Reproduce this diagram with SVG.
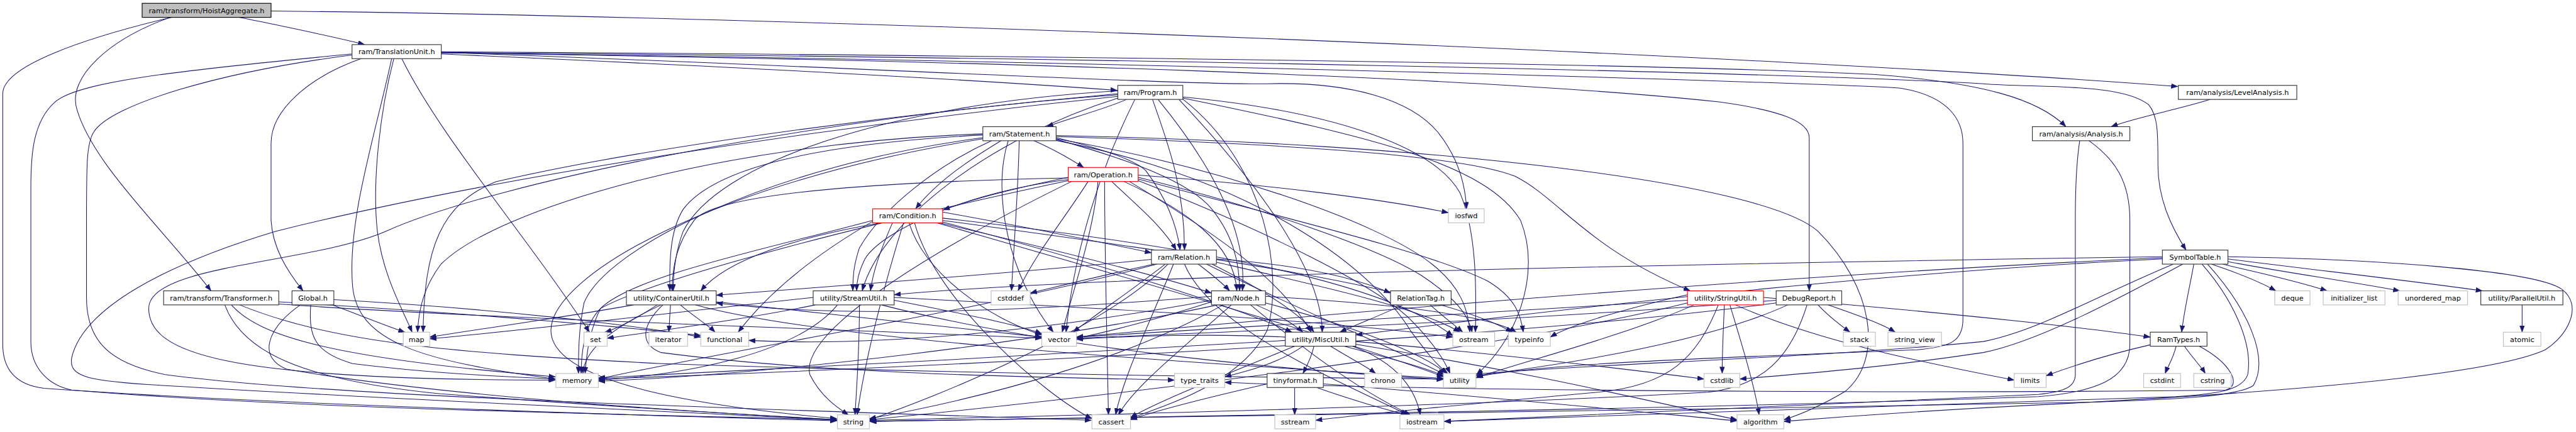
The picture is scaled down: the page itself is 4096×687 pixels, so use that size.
<svg xmlns="http://www.w3.org/2000/svg" width="4096" height="687" viewBox="0 0 4096 687">
<style>
.e path{fill:none;stroke:#191970;stroke-width:1.2;marker-end:url(#ah)}
.nd rect{fill:#fff;stroke:#333;stroke-width:1.3}
.sy rect{fill:#fff;stroke:#bfbfbf;stroke-width:1.3}
.rd rect{fill:#fff;stroke:#ff0000;stroke-width:1.3}
.rt rect{fill:#bfbfbf;stroke:#000;stroke-width:1.3}
text{font-family:"DejaVu Sans","Liberation Sans",sans-serif;font-size:12.9px;text-anchor:middle;fill:#000}
</style>
<defs>
<marker id="ah" viewBox="0 0 12 9" refX="12" refY="4.5" markerWidth="12" markerHeight="9" markerUnits="userSpaceOnUse" orient="auto"><path d="M0,0 L12,4.5 L0,9 z" fill="#191970" stroke="#191970" stroke-width="0.5"/></marker>
</defs>
<rect x="0" y="0" width="4096" height="687" fill="#fff"/>
<g transform="scale(0.876)">
<g id="edges" class="e">
<path d="M433,31 C500,45 600,65 662,81"/>
<path d="M492,20 C1500,30 3200,100 3953,157"/>
<path d="M310,31 C200,70 120,140 140,200 C170,300 300,420 383,528"/>
<path d="M313,31 C150,70 5,120 5,170 L5,625 C5,680 40,700 80,705 C500,735 1200,755 1519,764"/>
<path d="M657,106 C560,140 492,200 492,260 L492,400 C495,450 520,490 550,528"/>
<path d="M715,106 C690,200 675,330 685,420 C695,500 730,560 748,603"/>
<path d="M711,106 C680,250 630,400 640,520 C650,620 760,655 1008,688"/>
<path d="M729,106 C800,250 950,420 1070,603"/>
<path d="M801,98 C1300,120 1700,140 2028,164"/>
<path d="M801,95 C1500,120 2150,155 2300,152 C2450,148 2560,180 2610,240 C2650,290 2660,340 2662,379"/>
<path d="M801,96 C1800,110 2700,140 3120,185 C3230,200 3284,220 3284,250 L3284,528"/>
<path d="M801,94 C1800,100 3000,115 3400,135 C3600,150 3700,180 3750,230"/>
<path d="M801,95 C2000,105 3200,130 3600,152 C3700,160 3850,150 3900,190 C3917,210 3917,240 3917,300 C3917,360 3940,410 3968,454"/>
<path d="M801,96 C2000,110 3300,150 3450,160 C3540,175 3563,220 3563,260 L3563,580 C3563,620 3540,630 3480,635 C3100,650 2800,660 2680,684"/>
<path d="M639,98 C300,130 140,150 100,185 C60,220 56,280 56,340 L56,620 C56,670 90,700 130,708 C500,740 1100,752 1519,762"/>
<path d="M639,100 C400,130 200,190 170,240 C157,260 157,300 157,400 L157,540 C157,620 200,660 300,680 C600,720 1300,740 1981,763"/>
<path d="M4012,180.5 C3950,200 3880,212 3832,230"/>
<path d="M3775,255.5 C3768,300 3767,350 3767,400 L3767,680 C3767,705 3740,712 3700,716 C3200,740 2800,758 2622,765"/>
<path d="M3792,255.5 C3840,290 3866,330 3866,400 L3866,625 C3866,690 3800,712 3700,720 C3000,745 2000,758 1579,765"/>
<path d="M2045,180.5 C2000,200 1940,215 1900,230"/>
<path d="M2092,180.5 C2120,260 2150,340 2150,454"/>
<path d="M2102,180.5 C2200,300 2265,420 2255,528"/>
<path d="M2029,165 C1600,190 1300,300 1240,420 C1225,460 1222,500 1222,528"/>
<path d="M2029,170 C1700,200 1200,260 900,330 C800,370 770,450 768,603"/>
<path d="M2029,172 C1500,210 900,330 700,420 C560,480 270,480 270,560 C270,640 400,690 1008,690"/>
<path d="M2029,175 C1500,230 900,320 500,420 C300,480 150,560 130,650 C125,685 160,692 300,700 C800,730 1300,750 1519,763"/>
<path d="M2060,180.5 C2000,300 1950,450 1935,603"/>
<path d="M2147,176 C2400,200 2600,260 2650,350 C2680,420 2680,520 2678,603"/>
<path d="M2147,178 C2500,250 2700,300 2760,400 C2800,500 2750,620 2680,680"/>
<path d="M2147,180 C2300,300 2330,500 2300,600 C2250,700 2100,740 2052,760"/>
<path d="M2140,180.5 C2300,350 2400,500 2400,603"/>
<path d="M2029,178 C1800,250 1600,400 1565,528"/>
<path d="M1877,255.5 C1910,270 1945,290 1967,304"/>
<path d="M1817,255.5 C1760,290 1700,330 1662,379"/>
<path d="M1917,250 C2000,270 2060,290 2080,310 C2110,350 2135,400 2142,454"/>
<path d="M1917,253 C2050,290 2160,330 2200,380 C2240,430 2250,480 2250,528"/>
<path d="M1850,255.5 C1848,350 1840,450 1836,528"/>
<path d="M1784,245 C1500,260 1300,300 1240,380 C1215,420 1215,480 1216,528"/>
<path d="M1800,255.5 C1700,300 1600,380 1560,450 C1550,480 1548,500 1548,528"/>
<path d="M1917,248 C2300,260 2650,280 2750,320 C2830,360 2880,450 3068,528"/>
<path d="M1784,243 C1300,260 900,380 800,480 C770,520 760,560 758,603"/>
<path d="M1784,250 C1400,300 1100,450 1060,550 C1050,600 1050,640 1050,678"/>
<path d="M1784,252 C1300,330 1000,500 1000,600 C1000,700 1300,740 1519,760"/>
<path d="M1830,255.5 C1800,350 1830,500 1912,603"/>
<path d="M1917,252 C2200,300 2500,400 2600,480 C2650,520 2665,560 2668,603"/>
<path d="M1917,255 C2300,330 2500,500 2560,600 C2590,640 2605,660 2628,678"/>
<path d="M1917,246 C2600,260 3200,330 3300,420 C3400,520 3420,650 3350,710 C3300,740 3260,755 3238,762"/>
<path d="M1939,322 C1850,340 1770,360 1712,381"/>
<path d="M2066,318 C2300,335 2500,360 2629,386"/>
<path d="M2018,329.5 C2060,370 2110,410 2135,454"/>
<path d="M2040,329.5 C2150,380 2240,440 2245,528"/>
<path d="M1975,329.5 C1930,400 1880,460 1848,528"/>
<path d="M1993,329.5 C1985,420 1950,520 1928,603"/>
<path d="M2005,329.5 C2005,450 2010,650 2012,753"/>
<path d="M1939,323 C1600,330 1300,350 1260,400 C1230,440 1220,480 1220,528"/>
<path d="M1939,326 C1750,350 1600,420 1570,470 C1558,495 1555,510 1555,528"/>
<path d="M1939,328 C1600,400 1200,500 1090,560 C1060,590 1055,640 1055,678"/>
<path d="M1945,329.5 C1700,450 1450,600 1470,680 C1490,720 1520,740 1540,753"/>
<path d="M2066,322 C2300,380 2500,450 2580,500 C2640,540 2665,570 2672,603"/>
<path d="M2066,325 C2350,400 2600,460 2700,510 C2750,540 2760,570 2765,603"/>
<path d="M2066,328 C2300,420 2500,520 2560,580 C2600,620 2620,650 2632,678"/>
<path d="M2050,329.5 C2200,420 2320,500 2380,603"/>
<path d="M1711,385 C1850,410 2000,440 2090,459"/>
<path d="M1705,404.5 C1900,450 2100,500 2199,532"/>
<path d="M1600,404.5 C1450,430 1320,470 1272,528"/>
<path d="M1620,404.5 C1600,450 1585,490 1580,528"/>
<path d="M1650,404.5 C1680,500 1800,580 1891,608"/>
<path d="M1584,400 C1400,450 1150,500 1090,560 C1070,600 1065,640 1062,678"/>
<path d="M1640,404.5 C1610,500 1570,650 1556,753"/>
<path d="M1660,404.5 C1700,550 1900,720 1982,760"/>
<path d="M1711,396 C2100,440 2500,500 2637,610"/>
<path d="M1711,400 C2150,460 2600,520 2745,603"/>
<path d="M1700,404.5 C2100,520 2450,620 2620,684"/>
<path d="M1584,402 C1450,480 1380,550 1340,603"/>
<path d="M1711,403 C2000,480 2250,560 2345,603"/>
<path d="M2175,479.5 C2195,495 2215,510 2232,528"/>
<path d="M2208,470 C2350,480 2450,500 2524,532"/>
<path d="M2090,471 C1800,500 1500,520 1300,536"/>
<path d="M2095,479.5 C2000,500 1920,520 1870,532"/>
<path d="M2115,479.5 C2050,530 1990,570 1948,603"/>
<path d="M2200,479.5 C2300,530 2360,570 2385,603"/>
<path d="M2120,479.5 C2000,600 1700,720 1578,762"/>
<path d="M2130,479.5 C2090,580 2040,680 2025,753"/>
<path d="M2100,479.5 C1800,560 1300,640 1086,688"/>
<path d="M2208,476 C2400,520 2580,560 2650,603"/>
<path d="M2190,479.5 C2350,560 2550,640 2622,680"/>
<path d="M2150,479.5 C2200,600 2450,700 2555,753"/>
<path d="M2199,538 C1800,570 1500,575 1300,550"/>
<path d="M2199,548 C2100,580 2000,605 1954,614"/>
<path d="M2199,545 C1900,600 1600,630 1359,618"/>
<path d="M2210,553.5 C1900,620 1400,680 1086,692"/>
<path d="M2235,553.5 C2150,630 2060,700 2030,753"/>
<path d="M2270,553.5 C2350,620 2450,700 2560,753"/>
<path d="M2297,538 C2500,550 2700,570 2752,603"/>
<path d="M2297,550 C2450,590 2580,640 2626,678"/>
<path d="M2280,553.5 C2320,570 2350,590 2365,603"/>
<path d="M2220,553.5 C2050,650 1800,720 1578,760"/>
<path d="M1150,553.5 C1000,580 850,600 780,612"/>
<path d="M1193,553.5 C1160,575 1125,595 1098,603"/>
<path d="M1200,553.5 C1100,600 1060,640 1058,678"/>
<path d="M1217,553.5 L1214,603"/>
<path d="M1235,553.5 C1260,575 1285,590 1298,603"/>
<path d="M1203,553.5 C1165,590 1160,625 1200,640 C1500,680 1900,685 2132,690"/>
<path d="M1300,548 C1500,570 1750,595 1891,612"/>
<path d="M1262,553.5 C1500,620 2200,660 2620,687"/>
<path d="M1476,540 C1200,570 950,600 780,615"/>
<path d="M1480,553.5 C1350,580 1200,600 1102,614"/>
<path d="M1520,553.5 C1450,640 1250,680 1086,690"/>
<path d="M1623,545 C1750,570 1850,590 1891,606"/>
<path d="M1623,540 C2000,560 2400,580 2637,612"/>
<path d="M1560,553.5 C1560,640 1555,700 1552,753"/>
<path d="M1600,553.5 C1900,630 2300,670 2620,689"/>
<path d="M2385,628.5 C2380,650 2372,665 2365,678"/>
<path d="M2415,628.5 C2450,650 2480,665 2497,678"/>
<path d="M2440,628.5 C2520,650 2580,665 2620,682"/>
<path d="M2365,628.5 C2320,660 2260,675 2223,684"/>
<path d="M2455,628.5 C2540,660 2570,710 2578,753"/>
<path d="M2461,620 C2700,640 2950,670 3093,688"/>
<path d="M2333,612 C2200,605 2050,610 1954,616"/>
<path d="M2333,618 C2000,640 1400,670 1086,686"/>
<path d="M2350,628.5 C2200,690 2100,730 2052,758"/>
<path d="M2461,625 C2800,680 3000,730 3153,762"/>
<path d="M2350,703.5 L2350,753"/>
<path d="M2390,703.5 C2450,725 2520,745 2555,753"/>
<path d="M2300,697 C2200,720 2100,745 2052,762"/>
<path d="M2402,697 C2700,720 3000,750 3153,764"/>
<path d="M3130,553.5 C3128,600 3126,640 3126,678"/>
<path d="M3140,553.5 C3160,620 3185,700 3193,753"/>
<path d="M3150,553.5 C3300,620 3500,660 3656,690"/>
<path d="M3201,540 C3500,565 3750,590 3903,612"/>
<path d="M3063,535 C2950,560 2850,590 2814,612"/>
<path d="M3075,553.5 C2950,610 2750,660 2679,686"/>
<path d="M3119,553.5 C3080,650 3030,700 2900,712 C2700,730 2450,755 2388,763"/>
<path d="M3063,545 C2600,570 2200,600 1954,612"/>
<path d="M3063,550 C2700,640 2000,720 1578,762"/>
<path d="M3300,553.5 C3320,575 3340,590 3358,603"/>
<path d="M3318,553.5 C3380,575 3420,590 3440,603"/>
<path d="M3224,545 C2800,580 2300,600 1954,614"/>
<path d="M3245,553.5 C3100,620 2850,660 2679,682"/>
<path d="M3280,553.5 C3250,650 3200,700 3100,712 C2600,740 1900,755 1578,763"/>
<path d="M3224,550 C2700,620 1600,670 1086,688"/>
<path d="M3950,628.5 C3945,650 3935,665 3930,678"/>
<path d="M3965,628.5 C3980,650 3995,665 4003,678"/>
<path d="M3903,626 C3820,645 3760,665 3714,682"/>
<path d="M3992,628.5 C4050,660 4070,700 4040,708 C3500,715 2600,710 2223,694"/>
<path d="M4578,553.5 L4578,603"/>
<path d="M4014,479.5 C4060,495 4100,510 4131,528"/>
<path d="M4034,479.5 C4100,495 4170,510 4224,528"/>
<path d="M4044,475 C4150,495 4260,510 4356,528"/>
<path d="M4044,470 C4200,490 4380,510 4506,528"/>
<path d="M3982,479.5 C3975,520 3965,560 3960,603"/>
<path d="M4044,466 C4300,470 4600,490 4650,525 C4690,555 4660,610 4620,635 C4500,690 4000,720 3700,735 C3500,745 3300,760 3238,765"/>
<path d="M3997,479.5 C4050,540 4090,620 4080,680 C4070,710 4020,715 3950,720 C3500,735 2900,755 2621,765"/>
<path d="M4007,479.5 C4080,560 4120,650 4090,700 C4060,720 3950,725 3800,730 C3000,745 2000,760 1578,765"/>
<path d="M3962,479.5 C3850,540 3700,620 3600,640 C3400,670 3250,680 3158,688"/>
<path d="M3945,479.5 C3800,540 3700,600 3600,620 C3300,650 2900,660 2679,679"/>
<path d="M3925,470 C3500,490 3000,540 2461,608"/>
<path d="M3925,466 C3000,480 2000,500 1623,535"/>
<path d="M3925,468 C3200,500 2300,580 1954,612"/>
<path d="M603,553.5 C660,575 710,595 735,603"/>
<path d="M606,544 C900,560 1150,590 1272,612"/>
<path d="M545,553.5 C480,600 470,650 520,670 C800,720 1300,750 1519,762"/>
<path d="M564,553.5 C560,610 570,640 640,660 C800,680 950,685 1008,688"/>
<path d="M506,548 C800,565 1100,590 1272,609"/>
<path d="M506,552 C900,580 1600,600 1891,614"/>
<path d="M420,553.5 C470,610 600,650 1008,684"/>
<path d="M408,553.5 C440,640 550,690 800,715 C1200,745 1400,755 1519,762"/>
<path d="M435,553.5 C600,620 800,640 1200,660 C1800,680 2300,685 2620,688"/>
<path d="M2546,553.5 C2500,575 2460,590 2432,603"/>
<path d="M2596,553.5 C2620,575 2640,590 2655,603"/>
</g>
<g id="n1" class="rt"><rect x="258" y="6" width="234" height="25.5"/><text x="375" y="23.5">ram/transform/HoistAggregate.h</text></g>
<g id="n2" class="nd"><rect x="639" y="81" width="162" height="25.5"/><text x="720" y="98.5">ram/TranslationUnit.h</text></g>
<g id="n3" class="nd"><rect x="2029" y="155" width="118" height="25.5"/><text x="2088" y="172.5">ram/Program.h</text></g>
<g id="n4" class="nd"><rect x="3954" y="155" width="215" height="25.5"/><text x="4061.5" y="172.5">ram/analysis/LevelAnalysis.h</text></g>
<g id="n5" class="nd"><rect x="1784" y="230" width="133" height="25.5"/><text x="1850.5" y="247.5">ram/Statement.h</text></g>
<g id="n6" class="nd"><rect x="3689" y="230" width="177" height="25.5"/><text x="3777.5" y="247.5">ram/analysis/Analysis.h</text></g>
<g id="n7" class="rd"><rect x="1939" y="304" width="127" height="25.5"/><text x="2002.5" y="321.5">ram/Operation.h</text></g>
<g id="n8" class="rd"><rect x="1584" y="379" width="127" height="25.5"/><text x="1647.5" y="396.5">ram/Condition.h</text></g>
<g id="n9" class="sy"><rect x="2629" y="379" width="65" height="25.5"/><text x="2661.5" y="396.5">iosfwd</text></g>
<g id="n10" class="nd"><rect x="2090" y="454" width="118" height="25.5"/><text x="2149" y="471.5">ram/Relation.h</text></g>
<g id="n11" class="nd"><rect x="3925" y="454" width="119" height="25.5"/><text x="3984.5" y="471.5">SymbolTable.h</text></g>
<g id="n12" class="nd"><rect x="297" y="528" width="209" height="25.5"/><text x="401.5" y="545.5">ram/transform/Transformer.h</text></g>
<g id="n13" class="nd"><rect x="530" y="528" width="76" height="25.5"/><text x="568" y="545.5">Global.h</text></g>
<g id="n14" class="nd"><rect x="1137" y="528" width="163" height="25.5"/><text x="1218.5" y="545.5">utility/ContainerUtil.h</text></g>
<g id="n15" class="nd"><rect x="1476" y="528" width="147" height="25.5"/><text x="1549.5" y="545.5">utility/StreamUtil.h</text></g>
<g id="n16" class="sy"><rect x="1799" y="528" width="71" height="25.5"/><text x="1834.5" y="545.5">cstddef</text></g>
<g id="n17" class="nd"><rect x="2199" y="528" width="98" height="25.5"/><text x="2248" y="545.5">ram/Node.h</text></g>
<g id="n18" class="nd"><rect x="2524" y="528" width="110" height="25.5"/><text x="2579" y="545.5">RelationTag.h</text></g>
<g id="n19" class="rd"><rect x="3063" y="528" width="138" height="25.5"/><text x="3132" y="545.5">utility/StringUtil.h</text></g>
<g id="n20" class="nd"><rect x="3224" y="528" width="119" height="25.5"/><text x="3283.5" y="545.5">DebugReport.h</text></g>
<g id="n21" class="sy"><rect x="4129" y="528" width="64" height="25.5"/><text x="4161" y="545.5">deque</text></g>
<g id="n22" class="sy"><rect x="4217" y="528" width="112" height="25.5"/><text x="4273" y="545.5">initializer_list</text></g>
<g id="n23" class="sy"><rect x="4353" y="528" width="126" height="25.5"/><text x="4416" y="545.5">unordered_map</text></g>
<g id="n24" class="nd"><rect x="4503" y="528" width="149" height="25.5"/><text x="4577.5" y="545.5">utility/ParallelUtil.h</text></g>
<g id="n25" class="sy"><rect x="732" y="603" width="48" height="25.5"/><text x="756" y="620.5">map</text></g>
<g id="n26" class="sy"><rect x="1060" y="603" width="42" height="25.5"/><text x="1081" y="620.5">set</text></g>
<g id="n27" class="sy"><rect x="1178" y="603" width="70" height="25.5"/><text x="1213" y="620.5">iterator</text></g>
<g id="n28" class="sy"><rect x="1272" y="603" width="87" height="25.5"/><text x="1315.5" y="620.5">functional</text></g>
<g id="n29" class="sy"><rect x="1891" y="603" width="63" height="25.5"/><text x="1922.5" y="620.5">vector</text></g>
<g id="n30" class="nd"><rect x="2333" y="603" width="128" height="25.5"/><text x="2397" y="620.5">utility/MiscUtil.h</text></g>
<g id="n31" class="sy"><rect x="2637" y="603" width="76" height="25.5"/><text x="2675" y="620.5">ostream</text></g>
<g id="n32" class="sy"><rect x="2738" y="603" width="76" height="25.5"/><text x="2776" y="620.5">typeinfo</text></g>
<g id="n33" class="sy"><rect x="3346" y="603" width="58" height="25.5"/><text x="3375" y="620.5">stack</text></g>
<g id="n34" class="sy"><rect x="3427" y="603" width="97" height="25.5"/><text x="3475.5" y="620.5">string_view</text></g>
<g id="n35" class="nd"><rect x="3903" y="603" width="103" height="25.5"/><text x="3954.5" y="620.5">RamTypes.h</text></g>
<g id="n36" class="sy"><rect x="4544" y="603" width="68" height="25.5"/><text x="4578" y="620.5">atomic</text></g>
<g id="n37" class="sy"><rect x="1009" y="678" width="77" height="25.5"/><text x="1047.5" y="695.5">memory</text></g>
<g id="n38" class="sy"><rect x="2132" y="678" width="91" height="25.5"/><text x="2177.5" y="695.5">type_traits</text></g>
<g id="n39" class="nd"><rect x="2300" y="678" width="102" height="25.5"/><text x="2351" y="695.5">tinyformat.h</text></g>
<g id="n40" class="sy"><rect x="2477" y="678" width="67" height="25.5"/><text x="2510.5" y="695.5">chrono</text></g>
<g id="n41" class="sy"><rect x="2620" y="678" width="59" height="25.5"/><text x="2649.5" y="695.5">utility</text></g>
<g id="n42" class="sy"><rect x="3093" y="678" width="65" height="25.5"/><text x="3125.5" y="695.5">cstdlib</text></g>
<g id="n43" class="sy"><rect x="3656" y="678" width="58" height="25.5"/><text x="3685" y="695.5">limits</text></g>
<g id="n44" class="sy"><rect x="3891" y="678" width="67" height="25.5"/><text x="3924.5" y="695.5">cstdint</text></g>
<g id="n45" class="sy"><rect x="3982" y="678" width="68" height="25.5"/><text x="4016" y="695.5">cstring</text></g>
<g id="n46" class="sy"><rect x="1520" y="753" width="58" height="25.5"/><text x="1549" y="770.5">string</text></g>
<g id="n47" class="sy"><rect x="1982" y="753" width="70" height="25.5"/><text x="2017" y="770.5">cassert</text></g>
<g id="n48" class="sy"><rect x="2314" y="753" width="74" height="25.5"/><text x="2351" y="770.5">sstream</text></g>
<g id="n49" class="sy"><rect x="2541" y="753" width="80" height="25.5"/><text x="2581" y="770.5">iostream</text></g>
<g id="n50" class="sy"><rect x="3153" y="753" width="85" height="25.5"/><text x="3195.5" y="770.5">algorithm</text></g>
</g>
</svg>
